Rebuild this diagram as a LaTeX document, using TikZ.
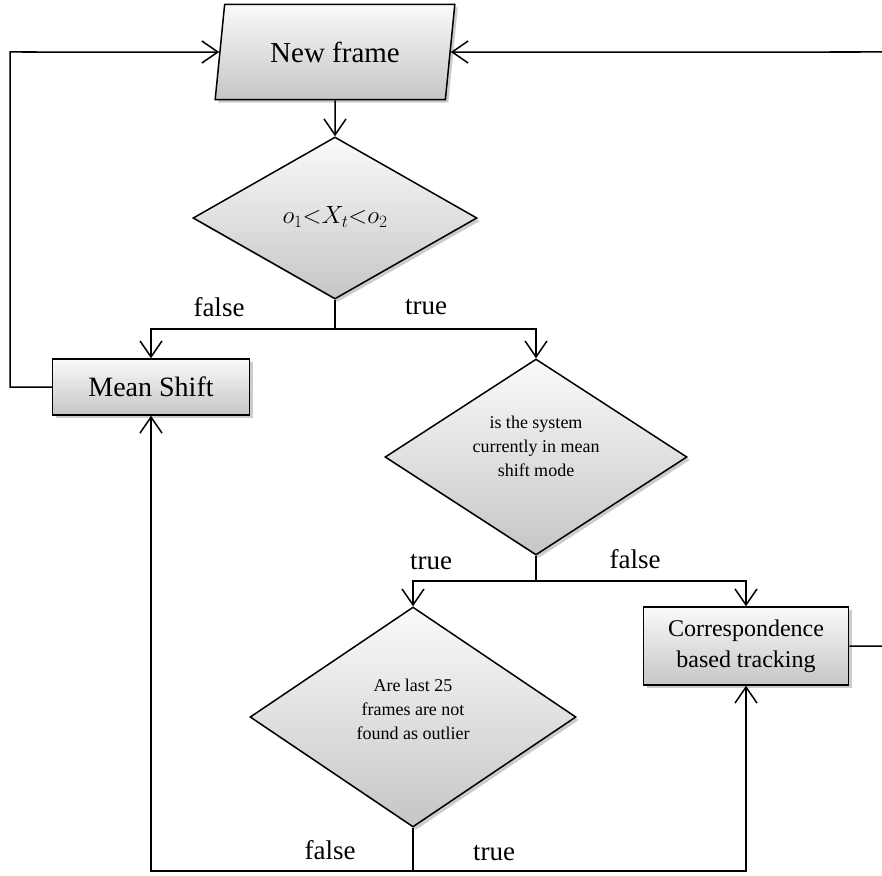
\documentclass[tikz,border=0pt]{standalone}
\usepackage{fontspec}
\setmainfont{Liberation Serif}
\usetikzlibrary{shapes.geometric,arrows.meta,shadows}
\begin{document}
\begin{tikzpicture}[x=1pt,y=-1pt,
  shp/.style={draw=black, line width=1.5pt, top color=gray!4, bottom color=gray!45,
    drop shadow={shadow xshift=3pt, shadow yshift=-3pt, fill=gray!80, opacity=0.5}},
  boxstyle/.style={shp, rectangle, inner sep=0pt, align=center},
  dia/.style={shp, diamond, inner sep=0pt, align=center, aspect=1.8},
  dtext/.style={font=\fontsize{18}{24}\selectfont, align=center, inner sep=0pt},
  arr/.style={-{Straight Barb[length=16pt,width=22pt,line width=1.5pt]}},
  conn/.style={line width=1.5pt},
  lbl/.style={font=\fontsize{27}{32}\selectfont, inner sep=0pt}
]
\useasboundingbox (0,0) rectangle (882,875);

% nodes
\node[shp, trapezium, trapezium left angle=75, trapezium right angle=105,
  trapezium stretches=true, minimum width=240pt, minimum height=95pt, inner sep=0pt,
  font=\fontsize{29}{34}\selectfont] (nf) at (335,52) {New frame};
\node[dia, minimum width=284pt, minimum height=162pt,
  font=\fontsize{25}{28}\selectfont] (d1) at (335,218) {\raisebox{6pt}{$o_1{<}X_t{<}o_2$}};
\node[boxstyle, minimum width=197pt, minimum height=56pt,
  font=\fontsize{28}{32}\selectfont] (ms) at (151,387) {Mean Shift};
\node[dia, minimum width=302pt, minimum height=196pt,
  label={[dtext, yshift=11pt]center:is the system\\currently in mean\\shift mode}] (d2) at (536,457) {};
\node[boxstyle, minimum width=205pt, minimum height=78pt,
  font=\fontsize{24}{31}\selectfont] (cb) at (746,646) {Correspondence\\based tracking};
\node[dia, minimum width=326pt, minimum height=220pt,
  label={[dtext, yshift=8pt]center:Are last 25\\frames are not\\found as outlier}] (d3) at (413,717) {};

% junction coordinates
\coordinate (j1) at (335,329);
\coordinate (j2) at (536,581);
\coordinate (j3) at (413,871);
\coordinate (lt) at (10,52);
\coordinate (rt) at (886,52);

% connectors
\draw[conn, arr] (nf) -- (d1);
\draw[conn] (d1.south) -- (j1);
\draw[conn, arr] (j1) -| (ms.north);
\draw[conn, arr] (j1) -| (d2.north);
\draw[conn] (d2.south) -- (j2);
\draw[conn, arr] (j2) -| (d3.north);
\draw[conn, arr] (j2) -| (cb.north);
\draw[conn] (d3.south) -- (j3);
\draw[conn, arr] (j3) -| (ms.south);
\draw[conn, arr] (j3) -| (cb.south);
\draw[conn, arr] (ms.west) -| (lt) -- (nf);
\draw[conn, arr] (cb.east) -| (rt) -- (nf);

% labels
\node[lbl] (l1) at (219,307) {false};
\node[lbl] (l2) at (426,307) {true};
\node[lbl] (l3) at (431,562) {true};
\node[lbl] (l4) at (635,559) {false};
\node[lbl] (l5) at (330,850) {false};
\node[lbl] (l6) at (494,853) {true};
\end{tikzpicture}
\end{document}
